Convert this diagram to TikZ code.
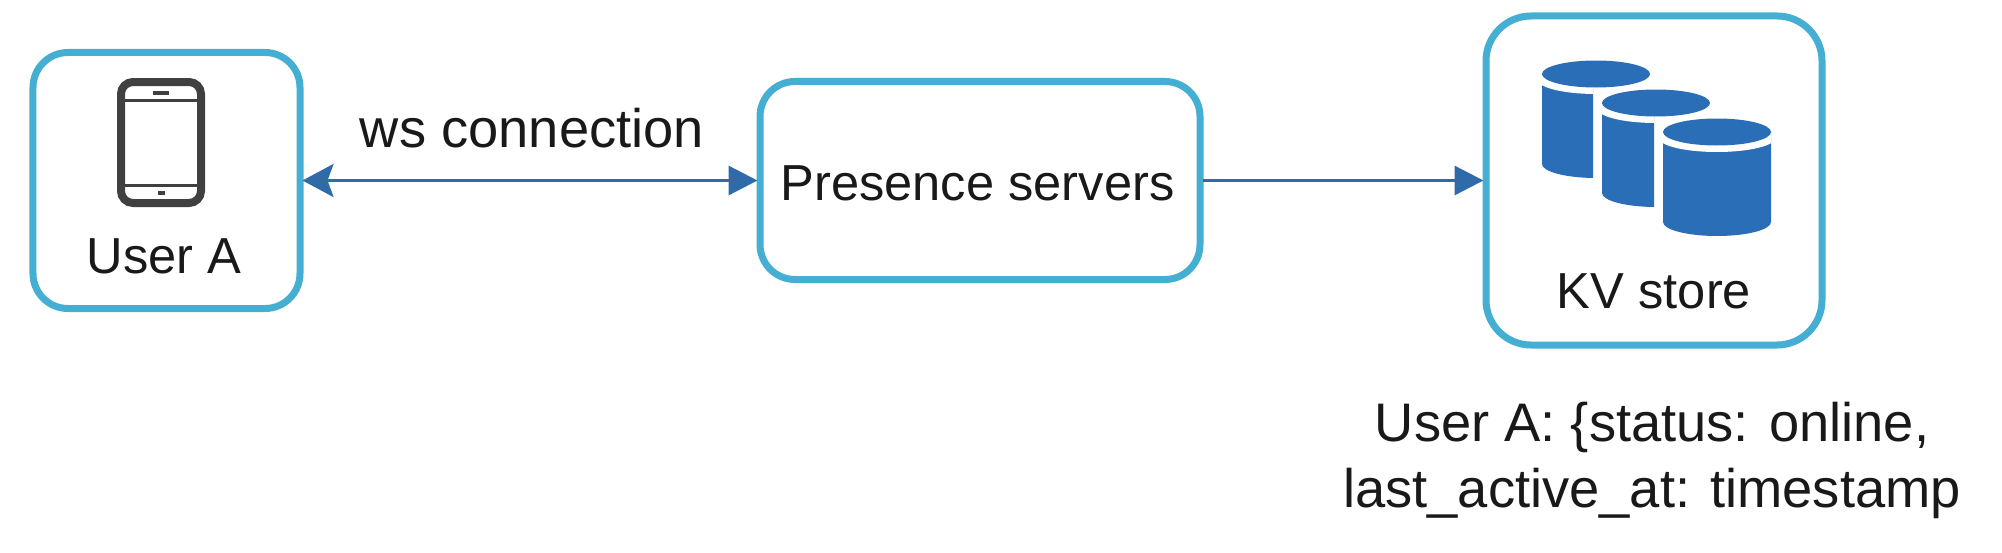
\documentclass[tikz,border=0pt]{standalone}
\usepackage{fontspec}
\setmainfont{Liberation Sans}
\usetikzlibrary{arrows.meta, positioning, calc}

\definecolor{boxblue}{HTML}{45AFD3}
\definecolor{linkblue}{HTML}{2F6BA8}
\definecolor{diskblue}{HTML}{2B6EB8}
\definecolor{tabletgrey}{HTML}{404040}

\begin{document}
\begin{tikzpicture}[
  x=0.2mm,
  y=0.2mm,
  font=\fontsize{28.8}{40}\selectfont,
  text=black!90,
  card/.style={draw=boxblue, line width=1.4mm, fill=white, inner sep=0pt, outer sep=0.5mm, align=center},
  link/.style={line width=0.65mm, draw=linkblue,
    {Stealth[length=6.2mm, width=6.6mm, inset=1.2mm, fill=linkblue]}-{Triangle[length=5.8mm, width=5.8mm, fill=linkblue]}},
  linkend/.style={line width=0.65mm, draw=linkblue,
    -{Triangle[length=5.8mm, width=5.8mm, fill=linkblue]}},
  lab/.style={anchor=base, inner sep=0pt, align=center},
  biglab/.style={lab, font=\fontsize{30.9}{40}\selectfont}
]

  \useasboundingbox (0,0) rectangle (2002,-552);

  % The three boxes, measured on the line centres.
  \node[card, rounded corners=7mm, minimum width=53.4mm, minimum height=51.2mm] at (166.5,-180.5) (usera) {};
  \node[card, rounded corners=7mm, minimum width=88mm, minimum height=39.6mm] at (980,-180.5)     (presence) {};
  \node[card, rounded corners=9mm, minimum width=67.2mm, minimum height=65.8mm] at (1654,-180.5)  (kvstore) {};

  \draw[link]    (usera)    -- (presence);
  \draw[linkend] (presence) -- (kvstore);

  % Tablet icon.
  \node[draw=tabletgrey, line width=1.6mm, rounded corners=2.4mm, inner sep=0pt,
    minimum width=16mm, minimum height=24.2mm] at (161,-142.5) (tablet) {};
  \draw[tabletgrey, line width=0.6mm] (tablet.west |- 0,-100) -- (tablet.east |- 0,-100);
  \draw[tabletgrey, line width=0.6mm] (tablet.west |- 0,-185) -- (tablet.east |- 0,-185);
  \draw[tabletgrey, line width=0.7mm] (153,-93) -- (169,-93);
  \draw[tabletgrey, line width=0.8mm] (158,-193) -- (165,-193);

  % Three disks, each one cut short by the next.
  \foreach \cx/\cy/\cw in {1542/74/51, 1602/103/52, 1663/132/108} {
    \begin{scope}
      \clip (\cx,-\cy+20) rectangle (\cx+\cw,-\cy-120);
      \fill[diskblue] (\cx,-\cy) -- (\cx,-\cy-90)
        arc[start angle=180, end angle=360, x radius=54, y radius=14] -- (\cx+108,-\cy) -- cycle;
      \fill[white] (\cx+54,-\cy-6) ellipse[x radius=58, y radius=14];
    \end{scope}
    \fill[diskblue] (\cx+54,-\cy) ellipse[x radius=54, y radius=13.5];
  }

  % Labels, placed on their baselines.
  \node[lab] at (164,-273)     (useralabel) {User A};
  \node[biglab] at (532,-147)  (wslabel)    {ws connection};
  \node[lab] at (977.5,-200)   (presencelabel) {Presence servers};
  \node[lab] at (1654,-308)    (kvlabel)    {KV store};
  \node[biglab] at (1652,-441) (statusline) {User A: \{status: online,};
  \node[biglab] at (1652,-507) (activeline) {last\_active\_at: timestamp};

\end{tikzpicture}
\end{document}
